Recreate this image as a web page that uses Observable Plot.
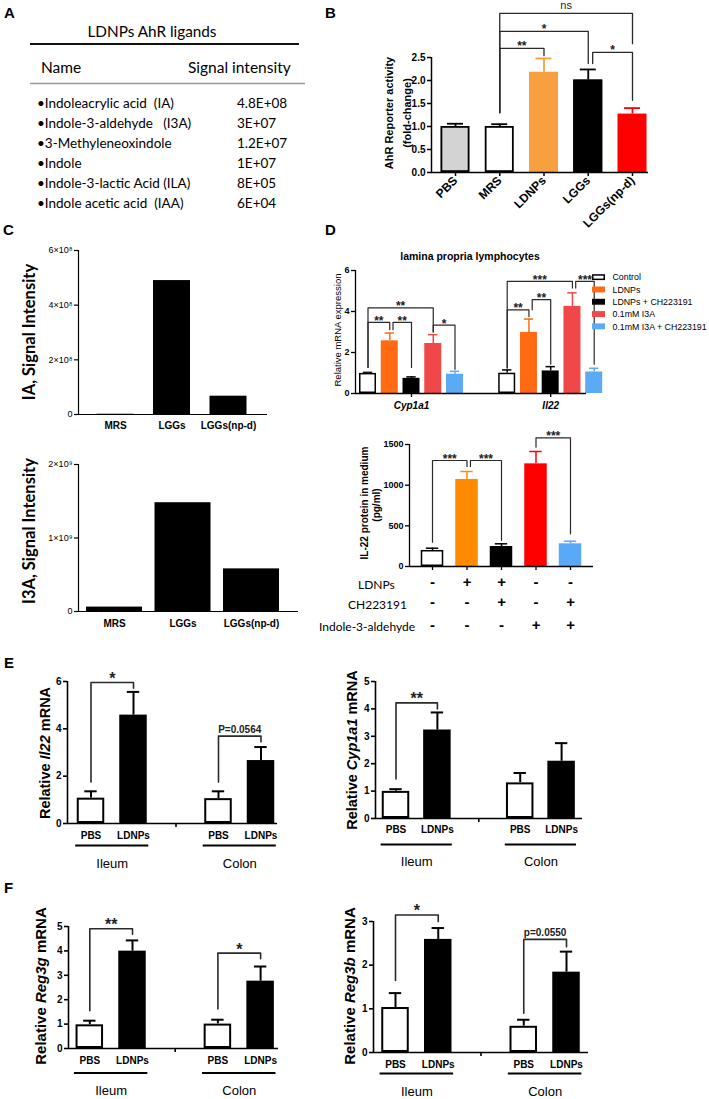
<!DOCTYPE html>
<html>
<head>
<meta charset="utf-8">
<script src="https://cdn.jsdelivr.net/npm/d3@7"></script>
<script src="https://cdn.jsdelivr.net/npm/@observablehq/plot@0.6"></script>
<style>
  html, body { margin: 0; padding: 0; background: #fff; }
  #fig { position: relative; width: 709px; height: 1099px; overflow: hidden; background: #fff; }
</style>
</head>
<body>
<div id="fig"></div>
<script>
// ---------------- DATA ----------------
// Panel A
const ligandTitle = "LDNPs AhR ligands";
const ligandNames = ["Indoleacrylic acid  (IA)", "Indole-3-aldehyde   (I3A)", "3-Methyleneoxindole", "Indole", "Indole-3-lactic Acid (ILA)", "Indole acetic acid  (IAA)"];
const ligandSignals = ["4.8E+08", "3E+07", "1.2E+07", "1E+07", "8E+05", "6E+04"];

// Panel B
const bGroups = ["PBS", "MRS", "LDNPs", "LGGs", "LGGs(np-d)"];
const bMean = [1.00, 1.00, 2.18, 2.01, 1.27];
const bSem = [0.06, 0.05, 0.30, 0.23, 0.13];
const bTicks = [0, 0.5, 1, 1.5, 2, 2.5];
const bSig = [
  {a: "MRS", b: "LDNPs", top: 2.70, ya: 1.30, yb: 2.54, label: "**"},
  {a: "MRS", b: "LGGs", top: 3.07, ya: 1.30, yb: 2.37, label: "*"},
  {a: "MRS", b: "LGGs(np-d)", top: 3.46, ya: 1.30, yb: 2.80, label: "ns"},
  {a: "LGGs", b: "LGGs(np-d)", top: 2.61, ya: 2.37, yb: 1.57, label: "*", shiftA: true}
];

// Panel C
const cGroups = ["MRS", "LGGs", "LGGs(np-d)"];
const iaSignal = [1.0e6, 4.9e8, 6.7e7];
const i3aSignal = [6.0e7, 1.48e9, 5.8e8];
const iaTicks = [0, 2e8, 4e8, 6e8];
const i3aTicks = [0, 1e9, 2e9];

// Panel D (top)
const dGenes = ["Cyp1a1", "Il22"];
const dSeries = ["Control", "LDNPs", "LDNPs + CH223191", "0.1mM I3A", "0.1mM I3A + CH223191"];
const cyp1a1Mean = [0.98, 2.57, 0.74, 2.44, 0.94];
const cyp1a1Sem = [0.05, 0.38, 0.07, 0.43, 0.14];
const il22MrnaMean = [0.99, 2.98, 1.10, 4.25, 1.05];
const il22MrnaSem = [0.16, 0.65, 0.21, 0.66, 0.18];
const dTopTicks = [0, 2, 4, 6];
const dTopSig = [
  {gene: "Cyp1a1", a: 0, b: 1, top: 3.47, ya: 1.27, yb: 3.11, label: "**"},
  {gene: "Cyp1a1", a: 1, b: 2, top: 3.47, ya: 3.11, yb: 1.27, label: "**", shiftA: true},
  {gene: "Cyp1a1", a: 0, b: 3, top: 4.18, ya: 1.27, yb: 3.00, label: "**"},
  {gene: "Cyp1a1", a: 3, b: 4, top: 3.34, ya: 3.00, yb: 1.18, label: "*"},
  {gene: "Il22", a: 0, b: 1, top: 4.08, ya: 1.25, yb: 3.75, label: "**"},
  {gene: "Il22", a: 1, b: 2, top: 4.58, ya: 4.08, yb: 1.43, label: "**", shiftA: true},
  {gene: "Il22", a: 0, b: 3, top: 5.47, ya: 1.25, yb: 5.15, label: "***"},
  {gene: "Il22", a: 3, b: 4, top: 5.47, ya: 5.15, yb: 1.43, label: "***", shiftA: true}
];

// Panel D (bottom)
const il22ProtMean = [197, 1070, 246, 1262, 279];
const il22ProtSem = [28, 98, 33, 152, 32];
const dBotTicks = [0, 500, 1000, 1500];
const dBotSig = [
  {a: 0, b: 1, top: 1303, ya: 299, yb: 1230, label: "***"},
  {a: 1, b: 2, top: 1303, ya: 1230, yb: 320, label: "***", shiftA: true},
  {a: 3, b: 4, top: 1582, ya: 1467, yb: 402, label: "***"}
];
const treatRowNames = ["LDNPs", "CH223191", "Indole-3-aldehyde"];
const rowLDNPs = ["-", "+", "+", "-", "-"];
const rowCH = ["-", "-", "+", "-", "+"];
const rowI3A = ["-", "-", "-", "+", "+"];

// Panels E / F  (order: Ileum PBS, Ileum LDNPs, Colon PBS, Colon LDNPs)
const sites = ["Ileum", "Colon"];
const treatments = ["PBS", "LDNPs"];
const il22Mean = [1.07, 4.58, 1.05, 2.66];
const il22Sem = [0.29, 0.98, 0.31, 0.57];
const cypMean = [0.99, 3.23, 1.30, 2.09];
const cypSem = [0.08, 0.64, 0.36, 0.66];
const reg3gMean = [0.97, 3.99, 1.00, 2.76];
const reg3gSem = [0.17, 0.44, 0.18, 0.60];
const reg3bMean = [1.03, 2.59, 0.60, 1.84];
const reg3bSem = [0.33, 0.26, 0.15, 0.47];
const il22Ticks = [0, 2, 4, 6];
const cypTicks = [0, 1, 2, 3, 4, 5];
const reg3gTicks = [0, 1, 2, 3, 4, 5];
const reg3bTicks = [0, 1, 2, 3];
const il22Sig = [{site: "Ileum", top: 5.96, ya: 1.75, yb: 5.72, label: "*"}, {site: "Colon", top: 3.69, ya: 1.75, yb: 3.45, label: "P=0.0564"}];
const cypSig = [{site: "Ileum", top: 4.22, ya: 1.44, yb: 4.00, label: "**"}];
const reg3gSig = [{site: "Ileum", top: 4.91, ya: 1.55, yb: 4.68, label: "**"}, {site: "Colon", top: 3.91, ya: 1.62, yb: 3.68, label: "*"}];
const reg3bSig = [{site: "Ileum", top: 3.15, ya: 1.65, yb: 3.00, label: "*"}, {site: "Colon", top: 2.59, ya: 0.90, yb: 2.42, label: "p=0.0550"}];

// ---------------- STYLE ----------------
const ARIAL = '"Liberation Sans", Arial, Helvetica, sans-serif';
const CAL = 'Lato, "Noto Sans", sans-serif';
const bPalette = ["#d3d3d3", "#ffffff", "#f8a040", "#000000", "#ff0000"];
const bEdge = ["#000", "#000", "#f8a040", "#000", "#ff0000"];
const bOutline = [true, true, false, true, false];
const dTopPalette = ["#ffffff", "#ff6a13", "#000000", "#f04848", "#5aaaf6"];
const dTopEdge = ["#000", "#ff6a13", "#000", "#f04848", "#5aaaf6"];
const dBotPalette = ["#ffffff", "#ff8a00", "#000000", "#ff0000", "#5aa8f8"];
const dBotEdge = ["#000", "#ff8a00", "#000", "#ff0000", "#5aa8f8"];
const dOutline = [true, false, false, false, false];
const GENE_GAP = 6.4;

// ---------------- HELPERS ----------------
const fig = document.getElementById("fig");
function place(node, left, top) {
  node.style.position = "absolute";
  node.style.left = left + "px";
  node.style.top = top + "px";
  fig.appendChild(node);
}
function chart(f, ydom, extra, makeMarks, m = {}) {
  const ml = m.ml ?? 50, mr = m.mr ?? 20, mt = m.mt ?? 60, mb = m.mb ?? 60;
  const fw = Math.round(f.r - f.l), fh = Math.round(f.b - f.t);
  const xd = [(f.l - f.c0) / f.step, (f.l + fw - f.c0) / f.step];
  const svg = Plot.plot({
    width: fw + ml + mr, height: fh + mt + mb,
    marginLeft: ml, marginRight: mr, marginTop: mt, marginBottom: mb,
    x: {type: "linear", domain: xd, axis: null, label: null},
    y: {type: "linear", domain: ydom, axis: null, label: null},
    ...extra,
    style: {fontFamily: ARIAL, fontWeight: "bold", overflow: "visible", background: "none", maxWidth: "none", color: "#000"},
    marks: makeMarks(xd)
  });
  place(svg, Math.round(f.l) - ml, Math.round(f.t) - mt);
}
function axesMarks(xd, ydom, ticks, fmt, o = {}) {
  const lw = o.lw ?? 1.5;
  return [
    Plot.axisY({ticks, tickFormat: fmt, tickSize: o.tickSize ?? 4, tickPadding: o.tickPadding ?? 2, fontSize: o.fs ?? 10, fontWeight: o.fw ?? "bold", strokeWidth: lw, label: null, fill: o.fill ?? "#000"}),
    Plot.ruleY([ydom[0]], {strokeWidth: lw}),
    Plot.ruleX([xd[0]], {y1: ydom[0], y2: ydom[1], strokeWidth: lw})
  ];
}
function barMarks(rows, o) {
  const hw = o.bw / 2 / o.step, cw = hw * (o.cap ?? 0.55), lw = o.lw ?? 1.5;
  const marks = [];
  const withErr = rows.filter(d => d.e != null);
  for (const edge of new Set(withErr.map(d => d.edge))) {
    const r = withErr.filter(d => d.edge === edge);
    marks.push(Plot.ruleX(r, {x: "slot", y1: "v", y2: d => d.v + d.e, stroke: edge, strokeWidth: lw}));
    marks.push(Plot.ruleY(r, {y: d => d.v + d.e, x1: d => d.slot - cw, x2: d => d.slot + cw, stroke: edge, strokeWidth: lw}));
  }
  marks.push(Plot.rect(rows, {x1: d => d.slot - hw, x2: d => d.slot + hw, y1: 0, y2: "v", fill: o.fill ?? "series"}));
  const out = rows.filter(d => d.outline);
  if (out.length) marks.push(Plot.rect(out, {x1: d => d.slot - hw, x2: d => d.slot + hw, y1: 0, y2: "v", fill: "none", stroke: "#000", strokeWidth: lw, inset: lw / 2}));
  return marks;
}
function bracketMarks(brs, o = {}) {
  const pts = brs.flatMap((b, k) => [{k, x: b.xa, y: b.ya}, {k, x: b.xa, y: b.top}, {k, x: b.xb, y: b.top}, {k, x: b.xb, y: b.yb}]);
  const isStar = b => /^\*+$/.test(b.label);
  return [
    Plot.line(pts, {x: "x", y: "y", z: "k", stroke: "#2a2a2a", strokeWidth: o.lw ?? 1.3}),
    Plot.text(brs.filter(isStar), {x: b => (b.xa + b.xb) / 2, y: "top", text: "label", lineAnchor: "bottom", dy: o.sdy ?? 2, fontSize: o.sfs ?? 13, fontWeight: "bold", fill: "#222"}),
    Plot.text(brs.filter(b => !isStar(b)), {x: b => (b.xa + b.xb) / 2, y: "top", text: "label", lineAnchor: "bottom", dy: o.wdy ?? -3, fontSize: o.wfs ?? 10, fontWeight: o.wfw ?? "bold", fill: "#222"})
  ];
}
const SUP = {"0": "⁰", "1": "¹", "2": "²", "3": "³", "4": "⁴", "5": "⁵", "6": "⁶", "7": "⁷", "8": "⁸", "9": "⁹"};
function sciFmt(v) {
  if (v === 0) return "0";
  const e = Math.floor(Math.log10(v) + 1e-9);
  return `${Math.round(v / 10 ** e)}×10${String(e).split("").map(c => SUP[c]).join("")}`;
}

// overlay for free text
const overlay = d3.create("svg").attr("width", 709).attr("height", 1099)
  .style("position", "absolute").style("left", "0px").style("top", "0px").style("overflow", "visible");
function txt(x, y, s, o = {}) {
  const t = overlay.append("text").attr("x", x).attr("y", y)
    .attr("font-family", o.ff || ARIAL).attr("font-size", o.fs || 12)
    .attr("font-weight", o.fw || "normal").attr("text-anchor", o.anchor || "start").attr("fill", o.fill || "#000");
  if (o.rot) t.attr("transform", `rotate(${o.rot},${x},${y})`);
  if (o.db) t.attr("dominant-baseline", o.db);
  if (Array.isArray(s)) s.forEach(p => t.append("tspan").attr("font-style", p.i ? "italic" : null).text(p.t));
  else t.text(s);
  return t;
}
function ylab(cx, cy, s, fs, fw = "bold", ff = ARIAL) {
  return txt(cx, cy, s, {fs, fw, ff, anchor: "middle", rot: -90, db: "central"});
}

// ---------------- PANEL LETTERS ----------------
[["A", 4, 18], ["B", 325, 18], ["C", 3, 235], ["D", 325, 235], ["E", 4, 668], ["F", 4, 893]]
  .forEach(([l, x, y]) => txt(x, y, l, {fs: 15, fw: "bold"}));

// ---------------- PANEL A ----------------
txt(152, 36.5, ligandTitle, {ff: CAL, fs: 15.3, anchor: "middle"});
overlay.append("line").attr("x1", 30).attr("x2", 299).attr("y1", 44).attr("y2", 44).attr("stroke", "#111").attr("stroke-width", 2);
txt(41, 72.5, "Name", {ff: CAL, fs: 15.5});
txt(188, 72.5, "Signal intensity", {ff: CAL, fs: 15.5});
overlay.append("line").attr("x1", 30).attr("x2", 305).attr("y1", 83.5).attr("y2", 83.5).attr("stroke", "#999").attr("stroke-width", 1.5);
ligandNames.forEach((n, i) => {
  txt(37, 107.5 + 20 * i, "•" + n, {ff: CAL, fs: 13.5}).style("white-space", "pre");
  txt(237, 107.5 + 20 * i, ligandSignals[i], {ff: CAL, fs: 13.5});
});

// ---------------- PANEL B ----------------
{
  const step = 44.25;
  const rows = bGroups.map((g, i) => ({slot: i, series: g, v: bMean[i], e: bSem[i], edge: bEdge[i], outline: bOutline[i]}));
  const br = bSig.map(s => ({...s, xa: bGroups.indexOf(s.a) + (s.shiftA ? 0.1 : 0), xb: bGroups.indexOf(s.b)}));
  chart({l: 431, r: 648, t: 57.3, b: 172, c0: 455, step}, [0, 2.5],
    {color: {type: "ordinal", domain: bGroups, range: bPalette}},
    xd => [
      ...barMarks(rows, {bw: 29, step, lw: 1.8}),
      ...bracketMarks(br, {sfs: 12, wfs: 11, wfw: "normal", sdy: 2, wdy: -4}),
      ...axesMarks(xd, [0, 2.5], bTicks, d3.format(".1f"), {fs: 10}),
      Plot.axisX({ticks: rows.map(d => d.slot), tickFormat: i => bGroups[i], tickRotate: -45, tickSize: 4, tickPadding: 2, fontSize: 12, fontWeight: "bold", label: null, strokeWidth: 1.5})
    ], {ml: 40, mt: 60, mb: 80, mr: 15});
  ylab(389, 113, "AhR Reporter activity", 11);
  ylab(406.5, 113, "(fold-change)", 11);
}

// ---------------- PANEL C ----------------
function cChart(f, ydom, ticks, values, bw) {
  const rows = cGroups.map((g, i) => ({slot: i, series: g, v: values[i], edge: "#000"}));
  chart(f, ydom, {}, xd => [
    ...barMarks(rows, {bw, step: f.step, fill: "#000"}),
    ...axesMarks(xd, ydom, ticks, sciFmt, {fs: 9, fw: "normal", lw: 1.2, tickSize: 4, fill: "#000"}),
    Plot.text(rows, {x: "slot", y: 0, dy: f.labDy, text: "series", fontSize: 10, fontWeight: "bold", lineAnchor: "middle"})
  ], {ml: 40, mt: 20, mb: 30, mr: 10});
}
cChart({l: 78, r: 267, t: 250, b: 414, c0: 115, step: 56.5, labDy: 11}, [0, 6e8], iaTicks, iaSignal, 37);
cChart({l: 78, r: 298, t: 463.5, b: 610.5, c0: 114, step: 68.5, labDy: 12.5}, [0, 2e9], i3aTicks, i3aSignal, 56);
ylab(29, 332, "IA, Signal Intensity", 16.5, "bold", CAL);
ylab(29, 531, "I3A, Signal Intensity", 16.5, "bold", CAL);

// ---------------- PANEL D (top) ----------------
{
  const step = 21.75;
  const rows = dGenes.flatMap((g, gi) => dSeries.map((s, k) => ({
    slot: gi * GENE_GAP + k, series: s,
    v: (gi === 0 ? cyp1a1Mean : il22MrnaMean)[k], e: (gi === 0 ? cyp1a1Sem : il22MrnaSem)[k],
    edge: dTopEdge[k], outline: dOutline[k]
  })));
  const br = dTopSig.map(s => {
    const g = dGenes.indexOf(s.gene) * GENE_GAP;
    return {...s, xa: g + s.a + (s.shiftA ? 0.15 : 0), xb: g + s.b};
  });
  const genes = dGenes.map((g, gi) => ({g, x: gi * GENE_GAP + 2}));
  chart({l: 355, r: 586, t: 270, b: 392.5, c0: 367.5, step}, [0, 6],
    {color: {type: "ordinal", domain: dSeries, range: dTopPalette}},
    xd => [
      ...barMarks(rows, {bw: 17, step, lw: 1.5}),
      ...bracketMarks(br, {lw: 1.2, sfs: 12, sdy: 2.5}),
      ...axesMarks(xd, [0, 6], dTopTicks, d3.format("d"), {fs: 9, lw: 1.3}),
      Plot.axisX({ticks: genes.map(d => d.x), tickSize: 4, tickFormat: () => "", label: null, strokeWidth: 1.3}),
      Plot.text(genes, {x: "x", y: 0, dy: 12, text: "g", fontSize: 10, fontStyle: "italic", lineAnchor: "middle"})
    ], {ml: 30, mt: 40, mb: 25, mr: 10});
  txt(470, 259.5, "lamina propria lymphocytes", {fs: 10.5, fw: "bold", anchor: "middle"});
  ylab(337, 330, "Relative mRNA expression", 9.5, "normal");
  // legend
  const leg = dSeries.map((s, i) => ({s, i}));
  const legend = Plot.plot({
    width: 112, height: 62, margin: 0,
    x: {type: "linear", domain: [0, 112], range: [0, 112], axis: null},
    y: {type: "linear", domain: [-0.5, 4.5], range: [0, 61.5], axis: null},
    color: {type: "ordinal", domain: dSeries, range: dTopPalette},
    style: {fontFamily: ARIAL, overflow: "visible", background: "none", maxWidth: "none", color: "#000"},
    marks: [
      Plot.rect(leg, {x1: 0, x2: 13, y1: d => d.i - 0.24, y2: d => d.i + 0.24, fill: "s"}),
      Plot.rect(leg.filter(d => dOutline[d.i]), {x1: 0, x2: 13, y1: d => d.i - 0.24, y2: d => d.i + 0.24, fill: "none", stroke: "#000", strokeWidth: 1.5, inset: 0.75}),
      Plot.text(leg, {x: 20, y: "i", text: "s", textAnchor: "start", fontSize: 8.8, lineAnchor: "middle"})
    ]
  });
  place(legend, 592, 270.5);
}

// ---------------- PANEL D (bottom) ----------------
{
  const step = 34.5;
  const rows = dSeries.map((s, k) => ({slot: k, series: s, v: il22ProtMean[k], e: il22ProtSem[k], edge: dBotEdge[k], outline: dOutline[k]}));
  const br = dBotSig.map(s => ({...s, xa: s.a + (s.shiftA ? 0.1 : 0), xb: s.b}));
  const signRows = [rowLDNPs, rowCH, rowI3A].map(r => r.map((s, k) => ({slot: k, s})));
  const rowDy = [16, 36, 59];
  chart({l: 409, r: 593, t: 444, b: 566, c0: 432, step}, [0, 1500],
    {color: {type: "ordinal", domain: dSeries, range: dBotPalette}},
    xd => [
      ...barMarks(rows, {bw: 22.5, step, lw: 1.5}),
      ...bracketMarks(br, {lw: 1.2, sfs: 12, sdy: 2.5}),
      ...axesMarks(xd, [0, 1500], dBotTicks, d3.format("d"), {fs: 9, lw: 1.3}),
      Plot.axisX({ticks: rows.map(d => d.slot), tickSize: 4, tickFormat: () => "", label: null, strokeWidth: 1.3}),
      ...signRows.map((r, ri) => Plot.text(r, {x: "slot", y: 0, dy: rowDy[ri], text: "s", fontSize: 15, fontWeight: "bold", lineAnchor: "middle"}))
    ], {ml: 30, mt: 30, mb: 75, mr: 10});
  ylab(364, 503, "IL-22 protein in medium", 10);
  ylab(376.5, 505, "(pg/ml)", 10);
  [[358, 589], [348, 609], [319, 631]].forEach(([x, y], i) => txt(x, y, treatRowNames[i], {ff: CAL, fs: 12}));
}

// ---------------- PANELS E / F ----------------
function efChart(f, ydom, ticks, means, sems, sig, labelDy) {
  const rows = means.map((v, i) => ({slot: Math.floor(i / 2) * 3 + (i % 2), series: treatments[i % 2], v, e: sems[i], edge: "#000", outline: i % 2 === 0}));
  const br = sig.map(s => { const g = sites.indexOf(s.site) * 3; return {...s, xa: g, xb: g + 1}; });
  const groups = sites.map((s, si) => ({s, a: si * 3, b: si * 3 + 1}));
  chart(f, ydom, {color: {type: "ordinal", domain: treatments, range: ["#ffffff", "#000000"]}}, xd => [
    ...barMarks(rows, {bw: 27.5, step: f.step, lw: 2, cap: 0.45}),
    ...bracketMarks(br, {lw: 1.6, sfs: 16, sdy: 1.5, wfs: 10, wdy: -3.5}),
    ...axesMarks(xd, ydom, ticks, d3.format("d"), {fs: 10, lw: 1.6}),
    Plot.axisX({ticks: [2], tickSize: 4, tickFormat: () => "", label: null, strokeWidth: 1.6}),
    Plot.text(rows, {x: "slot", y: 0, dy: labelDy[0], text: "series", fontSize: 10, lineAnchor: "middle"}),
    Plot.ruleY(groups, {y: 0, x1: d => d.a - 0.36, x2: d => d.b + 0.36, dy: labelDy[1], strokeWidth: 2}),
    Plot.text(groups, {x: d => (d.a + d.b) / 2, y: 0, dy: labelDy[2], text: "s", fontSize: 13, fontWeight: "normal", lineAnchor: "middle"})
  ], {ml: 40, mt: 30, mb: 60, mr: 15});
}
efChart({l: 67, r: 277, t: 680.7, b: 822.3, c0: 90.5, step: 42.5}, [0, 6], il22Ticks, il22Mean, il22Sem, il22Sig, [12, 22, 40]);
efChart({l: 375, r: 582, t: 681, b: 817.7, c0: 395.5, step: 41.4}, [0, 5], cypTicks, cypMean, cypSem, cypSig, [11.5, 26, 43]);
efChart({l: 68, r: 278, t: 926, b: 1047.7, c0: 89.3, step: 42.7}, [0, 5], reg3gTicks, reg3gMean, reg3gSem, reg3gSig, [12.5, 24.5, 42]);
efChart({l: 373, r: 588, t: 921, b: 1052.3, c0: 395, step: 42.75}, [0, 3], reg3bTicks, reg3bMean, reg3bSem, reg3bSig, [12, 21, 39.5]);
ylab(45, 753, [{t: "Relative "}, {t: "Il22", i: true}, {t: " mRNA"}], 14.5);
ylab(352, 750, [{t: "Relative "}, {t: "Cyp1a1", i: true}, {t: " mRNA"}], 14.5);
ylab(40, 986, [{t: "Relative "}, {t: "Reg3g", i: true}, {t: " mRNA"}], 15);
ylab(349, 986, [{t: "Relative "}, {t: "Reg3b", i: true}, {t: " mRNA"}], 15);

fig.appendChild(overlay.node());
</script>
</body>
</html>
